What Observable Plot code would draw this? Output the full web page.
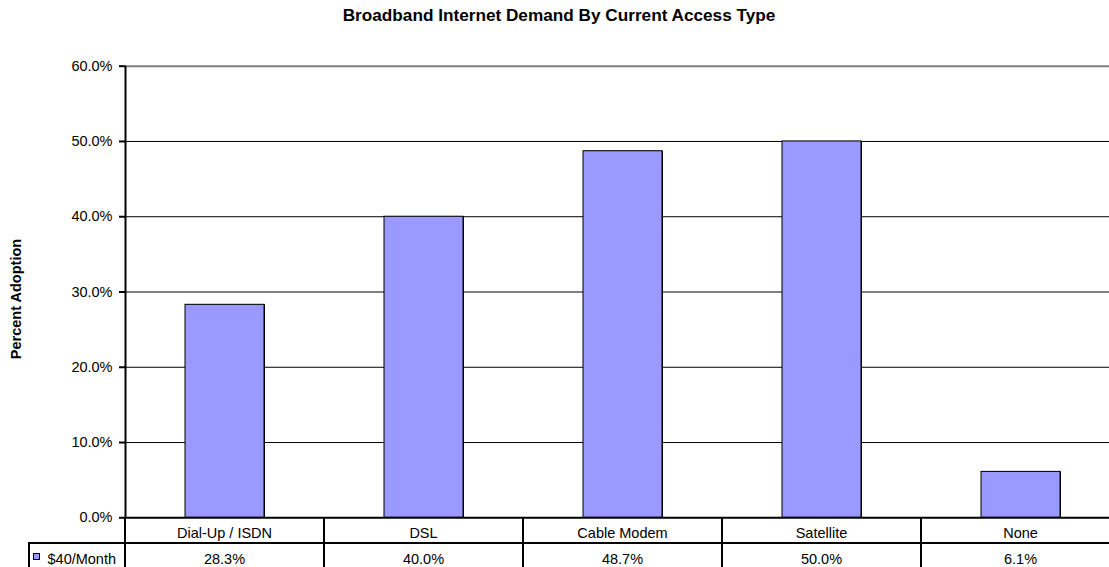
<!DOCTYPE html>
<html>
<head>
<meta charset="utf-8">
<script src="https://cdn.jsdelivr.net/npm/d3@7"></script>
<script src="https://cdn.jsdelivr.net/npm/@observablehq/plot@0.6"></script>
<style>
  html, body { margin: 0; padding: 0; background: #fff; overflow: hidden; }
  body { font-family: "Liberation Sans", Arial, sans-serif; color: #000; }
  #wrap { position: relative; width: 1120px; height: 567px; }
  #title { position: absolute; left: 0; top: 0; width: 1118px; height: 30px; line-height: 30px;
           text-align: center; font-weight: bold; font-size: 17.2px; }
  #chart { position: absolute; left: 0; top: 30px; }
  .line { position: absolute; background: #000; }
  .cell { position: absolute; text-align: center; font-size: 14.5px; line-height: 16px; white-space: nowrap; }
  #key { position: absolute; width: 5px; height: 5px; background: #9999FF; border: 1.5px solid #000; }
</style>
</head>
<body>
<div id="wrap">
  <div id="title"></div>
  <div id="chart"></div>
</div>
<script>
// ---- data ----
const title = "Broadband Internet Demand By Current Access Type";
const yLabel = "Percent Adoption";
const seriesName = "$40/Month";
const categories = ["Dial-Up / ISDN", "DSL", "Cable Modem", "Satellite", "None"];
const values = [28.3, 40.0, 48.7, 50.0, 6.1];
const yTicks = [0, 10, 20, 30, 40, 50, 60];

// ---- layout ----
const W = 1120, H = 489, mL = 125, mR = 0, mT = 35.7, mB = 1.7, svgTop = 30;
const bw = (W - mL - mR) / categories.length;
const barInset = 60;
const fmt = d => d.toFixed(1) + "%";

document.getElementById("title").textContent = title;

const data = categories.map((c, i) => ({cat: c, v: values[i]}));

const plot = Plot.plot({
  width: W, height: H,
  marginLeft: mL, marginRight: mR, marginTop: mT, marginBottom: mB,
  style: {fontFamily: '"Liberation Sans", Arial, sans-serif', fontSize: "14.5px", color: "#000", background: "transparent", overflow: "visible"},
  x: {type: "band", domain: categories, padding: 0, axis: null},
  y: {domain: [0, 60], axis: null},
  marks: [
    Plot.ruleY(yTicks.filter(t => t > 0 && t < 60), {stroke: "#000", strokeWidth: 1}),
    Plot.ruleY([60], {stroke: "#808080", strokeWidth: 2}),
    Plot.barY(data, {x: "cat", y: "v", fill: "#000", insetLeft: barInset, insetRight: barInset, dx: 1}),
    Plot.barY(data, {x: "cat", y: "v", fill: "#9999FF", stroke: "#000", strokeWidth: 1, insetLeft: barInset, insetRight: barInset}),
    Plot.ruleY([0], {stroke: "#000", strokeWidth: 2}),
    Plot.ruleX([categories[0]], {dx: -bw / 2, stroke: "#000", strokeWidth: 2}),
    Plot.axisY({ticks: yTicks, tickFormat: fmt, tickSize: 6, tickPadding: 7, label: null, stroke: "#000", strokeWidth: 2, fontSize: 14.5}),
    Plot.text([yLabel], {frameAnchor: "left", rotate: -90, dx: -109.5, dy: 7, textAnchor: "middle", lineAnchor: "middle", fontWeight: "bold", fontSize: 14.5, fill: "#000"})
  ]
});
document.getElementById("chart").appendChild(plot);

// ---- data table below the plot ----
const wrap = document.getElementById("wrap");
const xs = plot.scale("x");
const y0 = svgTop + H - mB;          // page y of the 0% axis
const rowSplit = 543;                 // page y of the row separator
const tableLeft = 29;
function addDiv(cls, style, text) {
  const d = document.createElement("div");
  d.className = cls;
  Object.assign(d.style, style);
  if (text != null) d.textContent = text;
  wrap.appendChild(d);
  return d;
}
const edges = categories.map(c => xs.apply(c));
edges.push(edges[edges.length - 1] + xs.bandwidth);
edges.forEach(e => addDiv("line", {left: (e - 1) + "px", top: y0 + "px", width: "2px", height: (570 - y0) + "px"}));
addDiv("line", {left: (tableLeft - 1) + "px", top: (rowSplit - 1) + "px", width: (W - tableLeft + 1) + "px", height: "2px"});
addDiv("line", {left: (tableLeft - 1) + "px", top: (rowSplit - 1) + "px", width: "2px", height: "30px"});
categories.forEach((c, i) => {
  const x = xs.apply(c);
  addDiv("cell", {left: x + "px", width: xs.bandwidth + "px", top: "525.3px"}, c);
  addDiv("cell", {left: x + "px", width: xs.bandwidth + "px", top: "550.7px"}, fmt(values[i]));
});
const key = document.createElement("div");
key.id = "key";
Object.assign(key.style, {left: "32.5px", top: "553px"});
wrap.appendChild(key);
addDiv("cell", {left: "47.5px", top: "550.7px", textAlign: "left"}, seriesName);
</script>
</body>
</html>
